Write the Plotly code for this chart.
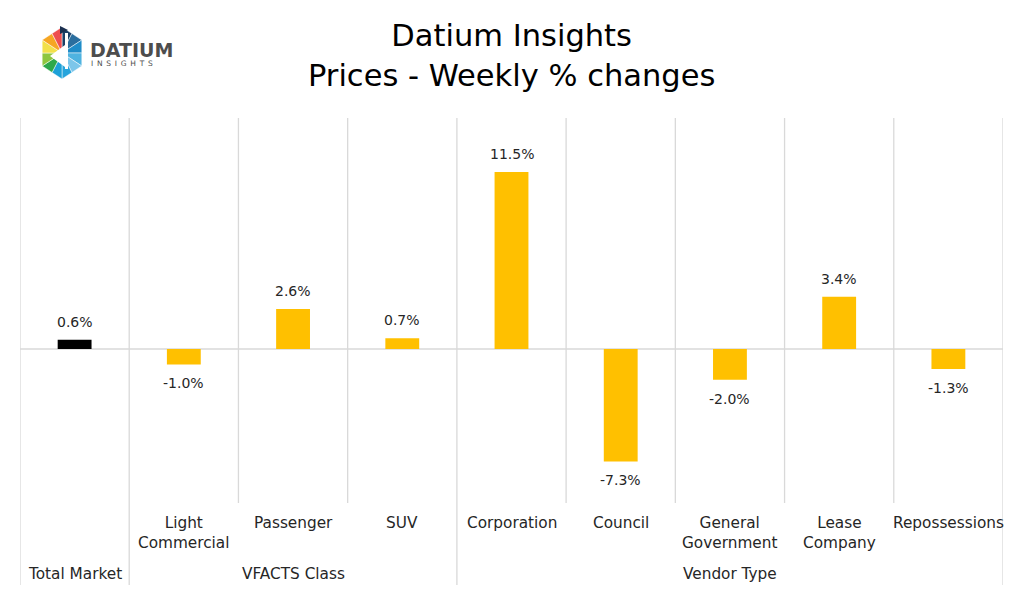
import math
import plotly.graph_objects as go

categories = ["Total Market", "Light<br>Commercial", "Passenger", "SUV", "Corporation",
              "Council", "General<br>Government", "Lease<br>Company", "Repossessions"]
values = [0.6, -1.0, 2.6, 0.7, 11.5, -7.3, -2.0, 3.4, -1.3]
value_labels = ["0.6%", "-1.0%", "2.6%", "0.7%", "11.5%", "-7.3%", "-2.0%", "3.4%", "-1.3%"]
groups = [("", 0, 0), ("VFACTS Class", 1, 3), ("Vendor Type", 4, 8)]
bar_colors = ["#000000"] + ["#FFC000"] * 8

OFF = 8  # page body margin
W, H = 1024 - 2 * OFF, 594 - 2 * OFF
# plot area in page pixels: x 20..1003, y 118..503
ML, MT = 20 - OFF, 118 - OFF
MR, MB = W - (1003 - OFF), H - (503 - OFF)
PW, PH = W - ML - MR, H - MT - MB
FONT = "DejaVu Sans, sans-serif"
TXT = "#262626"
GRID = "#D9D9D9"


def px(x):
    return (x - OFF - ML) / PW


def py(y):
    return (H - MB - (y - OFF)) / PH


x_idx = list(range(len(categories)))

fig = go.Figure()
fig.add_trace(go.Bar(
    x=x_idx, y=values, width=0.31,
    marker=dict(color=bar_colors, line=dict(width=0)),
    hoverinfo="skip",
))

shapes = []
group_bounds = {-0.5, 0.5, 3.5, 8.5}
for i in range(len(categories) + 1):
    b = i - 0.5
    y0 = py(585) if b in group_bounds else 0
    shapes.append(dict(type="line", xref="x", yref="paper", x0=b, x1=b, y0=y0, y1=1,
                       line=dict(color=GRID, width=1.3), layer="below"))
shapes.append(dict(type="line", xref="paper", yref="y", x0=0, x1=1, y0=0, y1=0,
                   line=dict(color=GRID, width=1.5), layer="below"))

# logo hexagon
cx, cy, r = 62, 53, 26
verts = []
for a in [90, 30, -30, -90, -150, 150]:
    verts.append((cx + r * math.cos(math.radians(a)) * 0.88, cy - r * math.sin(math.radians(a))))
tri_colors = [["#1B3F66", "#2A6E9E"], ["#1F8CC8", "#4FB3E0"], ["#7DC6EA", "#26A4DC"],
              ["#1DA1D8", "#2EA84C"], ["#8DC63F", "#F2E04A"], ["#F6A623", "#EE4E4E"]]
for k in range(6):
    (x1, y1), (x2, y2) = verts[k], verts[(k + 1) % 6]
    mx, my = (x1 + x2) / 2, (y1 + y2) / 2
    for j, (ax, ay, bx, by) in enumerate([(x1, y1, mx, my), (mx, my, x2, y2)]):
        path = f"M {px(cx)} {py(cy)} L {px(ax)} {py(ay)} L {px(bx)} {py(by)} Z"
        shapes.append(dict(type="path", xref="paper", yref="paper", path=path,
                           fillcolor=tri_colors[k][j], line=dict(width=0.5, color="white")))
shapes.append(dict(type="path", xref="paper", yref="paper",
                   path=f"M {px(cx - 12)} {py(cy + 3)} L {px(cx + 3)} {py(cy - 8)} L {px(cx + 3)} {py(cy + 14)} Z",
                   fillcolor="white", line=dict(width=0)))
shapes.append(dict(type="path", xref="paper", yref="paper",
                   path=f"M {px(cx + 3)} {py(cy - 20)} L {px(cx + 6)} {py(cy - 20)} L {px(cx + 6)} {py(cy + 16)} L {px(cx + 3)} {py(cy + 16)} Z",
                   fillcolor="white", line=dict(width=0)))
shapes.append(dict(type="path", xref="paper", yref="paper",
                   path=f"M {px(cx - 2)} {py(cy - 27)} L {px(cx + 6)} {py(cy - 23)} L {px(cx - 2)} {py(cy - 19)} Z",
                   fillcolor="#1B2F4F", line=dict(width=0)))

annotations = []
# value labels
for i, (v, lab) in enumerate(zip(values, value_labels)):
    annotations.append(dict(x=i, xref="x", y=v, yref="y", text=lab, showarrow=False,
                            yanchor="middle", yshift=18 if v >= 0 else -19,
                            font=dict(family=FONT, size=14, color=TXT)))
for i, c in enumerate(categories[1:], start=1):
    annotations.append(dict(x=i, xref="x", y=py(512), yref="paper", text=c, showarrow=False,
                            yanchor="top", xanchor="center",
                            font=dict(family=FONT, size=15.3, color=TXT)))
annotations.append(dict(x=0, xref="x", y=py(563), yref="paper", text=categories[0],
                        showarrow=False, yanchor="top",
                        font=dict(family=FONT, size=15.3, color=TXT)))
for name, a, b in groups:
    if name:
        annotations.append(dict(x=(a + b) / 2, xref="x", y=py(563), yref="paper", text=name,
                                showarrow=False, yanchor="top",
                                font=dict(family=FONT, size=15.3, color=TXT)))
annotations.append(dict(x=px(512), xref="paper", y=py(55), yref="paper",
                        text="Datium Insights<br>Prices - Weekly % changes", showarrow=False,
                        yanchor="middle", align="center",
                        font=dict(family=FONT, size=30.5, color="#000000")))
annotations.append(dict(x=px(88), xref="paper", y=py(49.5), yref="paper", text="<b>DATIUM</b>",
                        showarrow=False, xanchor="left", yanchor="middle",
                        font=dict(family=FONT, size=19, color="#4D4D4D")))
annotations.append(dict(x=px(89), xref="paper", y=py(63), yref="paper",
                        text="I\u2002N\u2002S\u2002I\u2002G\u2002H\u2002T\u2002S", showarrow=False,
                        xanchor="left", yanchor="middle",
                        font=dict(family=FONT, size=7.5, color="#4D4D4D")))

fig.update_layout(
    width=W, height=H,
    margin=dict(l=ML, r=MR, t=MT, b=MB),
    paper_bgcolor="white", plot_bgcolor="white",
    showlegend=False,
    xaxis=dict(range=[-0.5, 8.5], showticklabels=False, showgrid=False, zeroline=False,
               fixedrange=True),
    yaxis=dict(range=[-10, 15], showticklabels=False, showgrid=False, zeroline=False,
               fixedrange=True),
    shapes=shapes, annotations=annotations,
)

fig.write_html("out.html")
